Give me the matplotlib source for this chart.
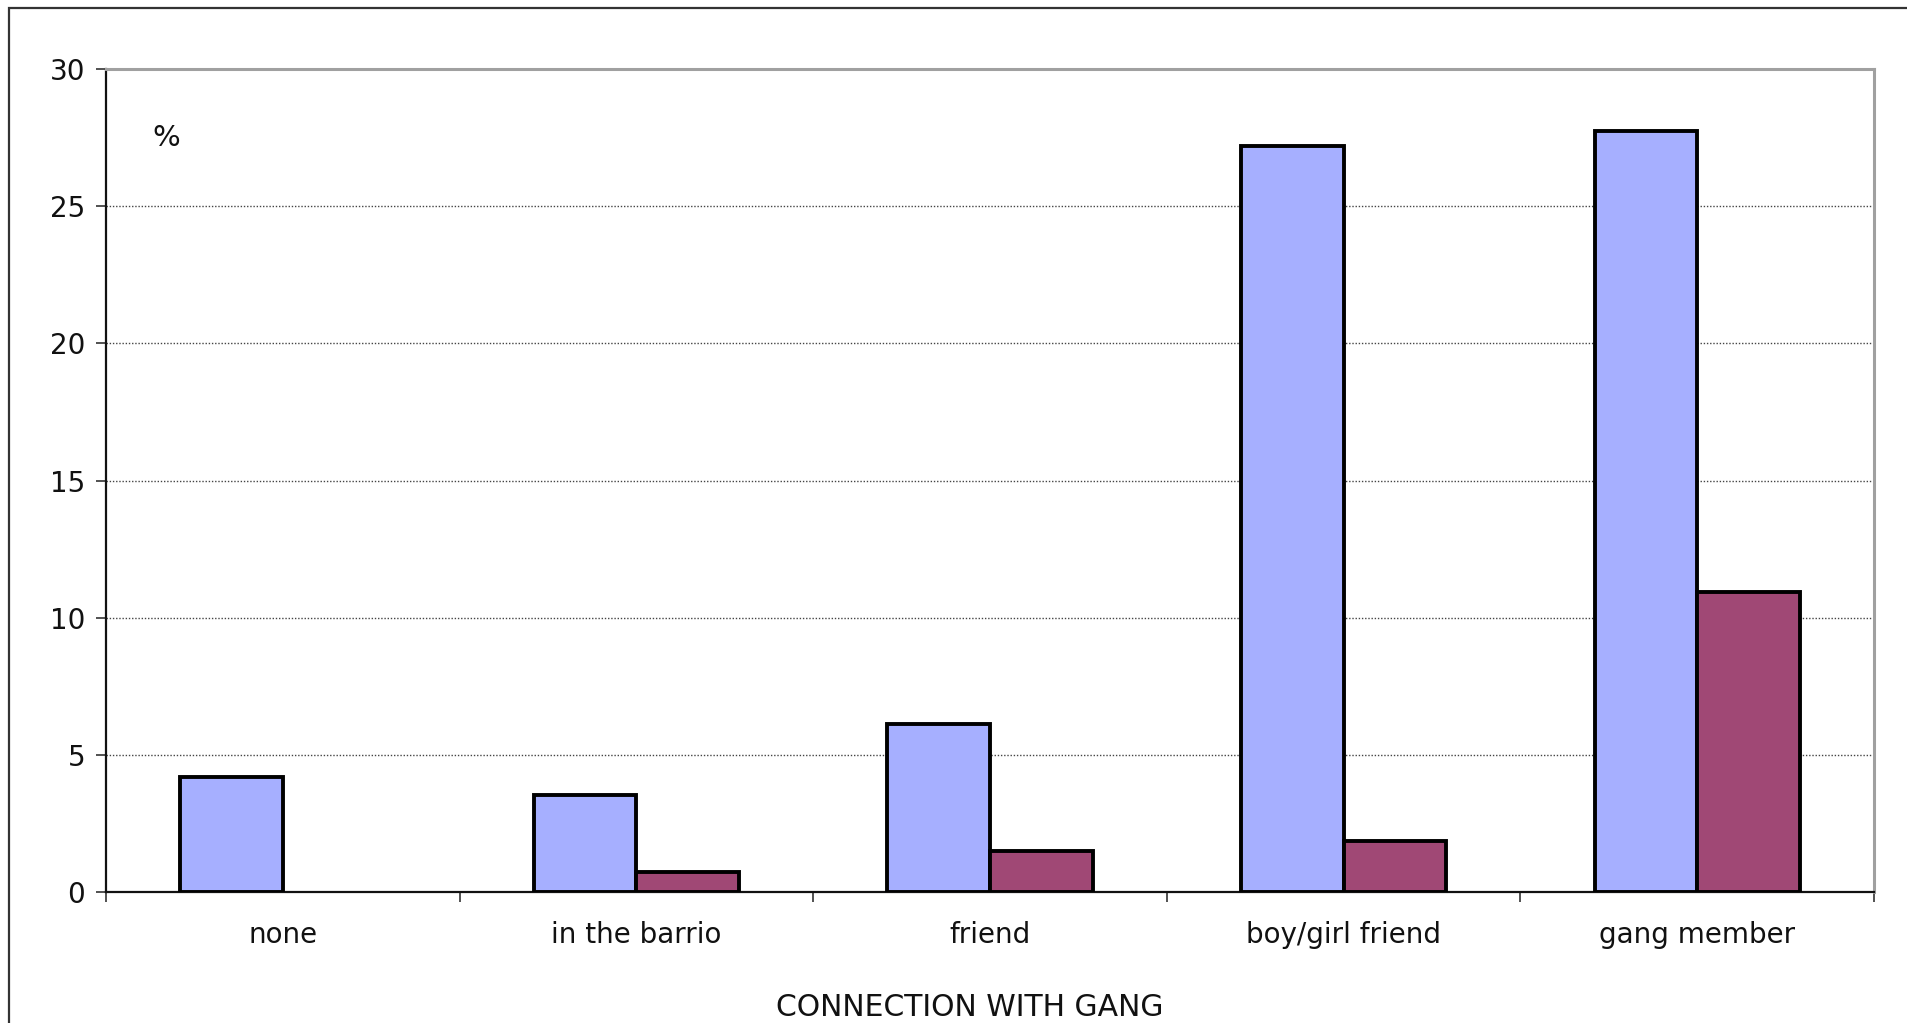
import matplotlib
matplotlib.use("Agg")
import matplotlib.pyplot as plt
import numpy as np
from matplotlib.patches import Rectangle

categories = ["none", "in the barrio", "friend", "boy/girl friend", "gang member"]
series_a = [4.2, 3.55, 6.12, 27.2, 27.75]
series_b = [0.0, 0.74, 1.48, 1.85, 10.95]
y_ticks = [0, 5, 10, 15, 20, 25, 30]

W, H = 1907, 1023
fig = plt.figure(figsize=(W / 100, H / 100), dpi=100)
fig.patch.set_facecolor("white")

# outer frame (cut off at right and bottom)
fig.patches.append(Rectangle((9 / W, -0.2), 1.5, (H - 8) / H + 0.2,
                             transform=fig.transFigure, fill=False,
                             edgecolor="#333333", linewidth=1.6, zorder=0))

left, right, top, bottom = 106, 1874, 69, 892
ax = fig.add_axes([left / W, 1 - bottom / H, (right - left) / W, (bottom - top) / H])

x = np.arange(len(categories))
bw = 0.29
lw_a = [2.8 if v > 0 else 0 for v in series_a]
lw_b = [2.8 if v > 0 else 0 for v in series_b]
ax.bar(x - bw / 2, series_a, width=bw, color="#A6AFFF", edgecolor="black",
       linewidth=lw_a, zorder=3)
ax.bar(x + bw / 2, series_b, width=bw, color="#A04875", edgecolor="black",
       linewidth=lw_b, zorder=3)

ax.set_xlim(-0.5, len(categories) - 0.5)
ax.set_ylim(0, 30)
ax.set_yticks(y_ticks)
ax.set_yticklabels([str(v) for v in y_ticks])
ax.set_xticks(x)
ax.set_xticklabels(categories)
ax.set_xticks(np.arange(len(categories) + 1) - 0.5, minor=True)

ax.tick_params(axis="x", which="major", length=0, pad=21, labelsize=20, labelcolor="#111111")
ax.tick_params(axis="x", which="minor", length=7, width=1.2, color="#333333", direction="out")
ax.tick_params(axis="y", length=7, width=1.2, color="#333333", pad=8, labelsize=20, labelcolor="#111111")

ax.yaxis.grid(True, linestyle=(0, (1, 1.3)), color="#444444", linewidth=1.0, zorder=0)
ax.set_axisbelow(True)

for s in ["left", "bottom"]:
    ax.spines[s].set_color("#111111")
    ax.spines[s].set_linewidth(1.6)
for s in ["top", "right"]:
    ax.spines[s].set_color("#A0A0A0")
    ax.spines[s].set_linewidth(2.2)

ax.text(0.034, 0.916, "%", transform=ax.transAxes, fontsize=21,
        ha="center", va="center", color="#111111")

fig.text(970 / W, 1 - 1008 / H, "CONNECTION WITH GANG", fontsize=21.5,
         ha="center", va="center", color="#111111")

fig.savefig("out.png", dpi=100, facecolor="white")
